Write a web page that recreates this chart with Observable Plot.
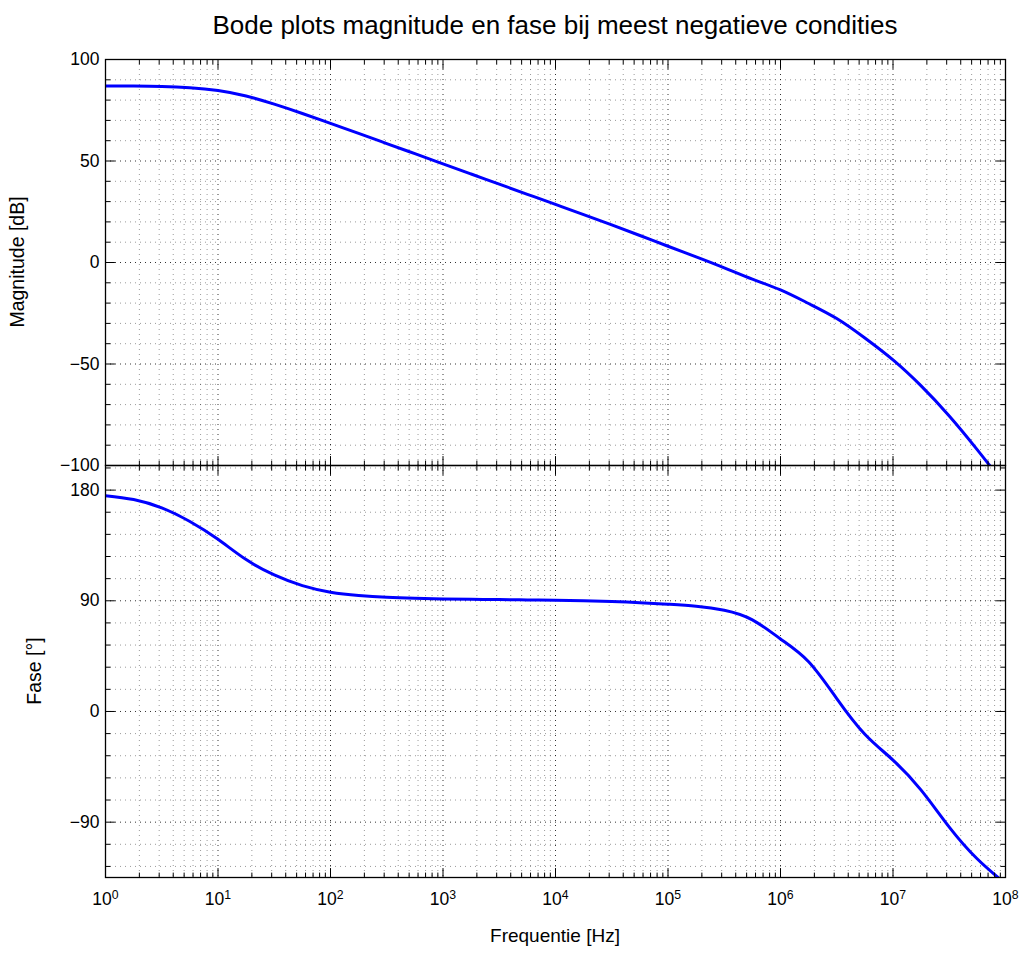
<!DOCTYPE html>
<html>
<head>
<meta charset="utf-8">
<script src="https://cdn.jsdelivr.net/npm/d3@7"></script>
<script src="https://cdn.jsdelivr.net/npm/@observablehq/plot@0.6"></script>
<style>
  body { margin: 0; background: #fff; }
  #wrap { position: relative; width: 1019px; height: 965px; font-family: "Liberation Sans", Arial, Helvetica, sans-serif; color: #000; overflow: hidden; }
  #wrap svg { position: absolute; left: 0; }
  .lbl { position: absolute; white-space: nowrap; line-height: 1; }
</style>
</head>
<body>
<div id="wrap"></div>
<script>
// ---- data ----
const logFreq = [0, 0.25, 0.5, 0.75, 1, 1.25, 1.5, 1.75, 2, 2.25, 2.5, 2.75, 3, 3.25, 3.5, 3.75,
  4, 4.25, 4.5, 4.75, 5, 5.25, 5.5, 5.75, 6, 6.25, 6.5, 6.75, 7, 7.25, 7.5, 7.75, 8];
const magnitudeDb = [87.0, 86.9, 86.7, 86.1, 84.7, 82.0, 78.0, 73.4, 68.5, 63.6, 58.6, 53.6, 48.6, 43.6, 38.6, 33.6,
  28.6, 23.6, 18.5, 13.3, 8.0, 2.8, -2.6, -8.2, -13.5, -20.2, -27.6, -37.2, -48.0, -60.8, -75.6, -92.3, -110];
const phaseDeg = [175.5, 172.3, 165.5, 154.5, 140.0, 123.5, 111.0, 102.3, 97.0, 94.3, 92.8, 92.0, 91.5, 91.2, 91.0, 90.7,
  90.4, 90.0, 89.4, 88.5, 87.2, 85.6, 82.3, 74.5, 59.0, 40.5, 10.5, -18.5, -39.5, -64.0, -94.0, -120.0, -140.0];

const decadeExps = [0, 1, 2, 3, 4, 5, 6, 7, 8];
const minorMultipliers = [2, 3, 4, 5, 6, 7, 8, 9];
const magMajor = [-100, -50, 0, 50, 100];
const magMinor = [-90, -80, -70, -60, -40, -30, -20, -10, 10, 20, 30, 40, 60, 70, 80, 90];
const phaseMajor = [-90, 0, 90, 180];
const phaseMinor = [-126, -108, -72, -54, -36, -18, 18, 36, 54, 72, 108, 126, 144, 162, 198];
const magDomain = [-100, 100];
const phaseDomain = [-135, 200];
const freqDomain = [1, 1e8];

const titleText = "Bode plots magnitude en fase bij meest negatieve condities";
const xLabel = "Frequentie [Hz]";
const magLabel = "Magnitude [dB]";
const phaseLabel = "Fase [°]";

// ---- derived tables ----
const magData = logFreq.map((e, i) => ({f: 10 ** e, v: magnitudeDb[i]}));
const phaseData = logFreq.map((e, i) => ({f: 10 ** e, v: phaseDeg[i]}));
const xMajor = decadeExps.map(e => 10 ** e);
const xMinor = decadeExps.slice(0, -1).flatMap(e => minorMultipliers.map(m => m * 10 ** e));

const W = 1019, ML = 105, MR = 14;
const tickShape = {draw(ctx, l) { ctx.moveTo(0, 0); ctx.lineTo(0, -l); }};
const fmtMinus = d => d < 0 ? "\u2212" + Math.abs(d) : String(d);

function xTicks(vals, anchor, len) {
  return Plot.vector(vals, {x: d => d, frameAnchor: anchor, length: len, rotate: anchor === "bottom" ? 0 : 180,
    anchor: "start", shape: tickShape, stroke: "#000", strokeWidth: 1});
}
function yTicks(vals, anchor, len) {
  return Plot.vector(vals, {y: d => d, frameAnchor: anchor, length: len, rotate: anchor === "left" ? 90 : -90,
    anchor: "start", shape: tickShape, stroke: "#000", strokeWidth: 1});
}
function grid(yMajor, yMinor) {
  const dash = "1,4";
  return [
    Plot.ruleX(xMinor, {x: d => d, stroke: "#000", strokeOpacity: 0.4, strokeDasharray: dash}),
    Plot.ruleY(yMinor, {y: d => d, stroke: "#000", strokeOpacity: 0.4, strokeDasharray: dash}),
    Plot.ruleX(xMajor, {x: d => d, stroke: "#000", strokeOpacity: 0.8, strokeDasharray: dash}),
    Plot.ruleY(yMajor, {y: d => d, stroke: "#000", strokeOpacity: 0.8, strokeDasharray: dash})
  ];
}
function boxTicks(yMajor, yMinor) {
  return [
    xTicks(xMajor, "bottom", 9), xTicks(xMinor, "bottom", 4.5),
    xTicks(xMajor, "top", 9), xTicks(xMinor, "top", 4.5),
    yTicks(yMajor, "left", 9), yTicks(yMinor, "left", 4.5),
    yTicks(yMajor, "right", 9), yTicks(yMinor, "right", 4.5)
  ];
}

const common = {
  width: W, marginLeft: ML, marginRight: MR,
  style: {background: "transparent", overflow: "visible", fontFamily: "Liberation Sans, Arial, sans-serif"}
};

// ---- magnitude panel ----
const magPlot = Plot.plot({
  ...common,
  height: 466, marginTop: 59, marginBottom: 1,
  x: {type: "log", domain: freqDomain, axis: null},
  y: {domain: magDomain, label: null},
  marks: [
    ...grid(magMajor, magMinor),
    Plot.line(magData, {x: "f", y: "v", stroke: "#0000ff", strokeWidth: 3, curve: "natural", clip: true}),
    Plot.frame({stroke: "#000", strokeWidth: 1.3}),
    ...boxTicks(magMajor, magMinor),
    Plot.axisY(magMajor, {anchor: "left", tickSize: 0, tickPadding: 6, fontSize: 17.5, tickFormat: fmtMinus, label: null})
  ]
});
magPlot.style.top = "0px";

// ---- phase panel ----
const phasePlot = Plot.plot({
  ...common,
  height: 505, marginTop: 5, marginBottom: 88,
  x: {type: "log", domain: freqDomain},
  y: {domain: phaseDomain, label: null},
  marks: [
    ...grid(phaseMajor, phaseMinor),
    Plot.line(phaseData, {x: "f", y: "v", stroke: "#0000ff", strokeWidth: 3, curve: "natural", clip: true}),
    Plot.frame({stroke: "#000", strokeWidth: 1.3}),
    ...boxTicks(phaseMajor, phaseMinor),
    Plot.axisY(phaseMajor, {anchor: "left", tickSize: 0, tickPadding: 6, fontSize: 17.5, tickFormat: fmtMinus, label: null}),
    Plot.axisX(xMajor, {anchor: "bottom", tickSize: 0, tickPadding: 15, fontSize: 17.5,
      tickFormat: d => String(Math.round(Math.log10(d))), label: null})
  ]
});
phasePlot.style.top = "460px";

// superscript exponents on the x tick labels
d3.select(phasePlot).selectAll('g[aria-label="x-axis tick label"] text').each(function() {
  const exp = this.textContent;
  const t = d3.select(this);
  t.text("10");
  t.append("tspan").attr("dy", "-0.5em").attr("font-size", "0.7em").text(exp);
});

const wrap = document.getElementById("wrap");
wrap.appendChild(magPlot);
wrap.appendChild(phasePlot);

function addLabel(text, css) {
  const d = document.createElement("div");
  d.className = "lbl";
  d.textContent = text;
  Object.assign(d.style, css);
  wrap.appendChild(d);
}
addLabel(titleText, {left: "555px", top: "12px", fontSize: "26px", transform: "translateX(-50%)"});
addLabel(xLabel, {left: "555px", top: "926px", fontSize: "19px", transform: "translateX(-50%)"});
addLabel(magLabel, {left: "18px", top: "262px", fontSize: "19.5px", transform: "translate(-50%,-50%) rotate(-90deg)"});
addLabel(phaseLabel, {left: "35px", top: "671px", fontSize: "19.5px", transform: "translate(-50%,-50%) rotate(-90deg)"});
</script>
</body>
</html>
